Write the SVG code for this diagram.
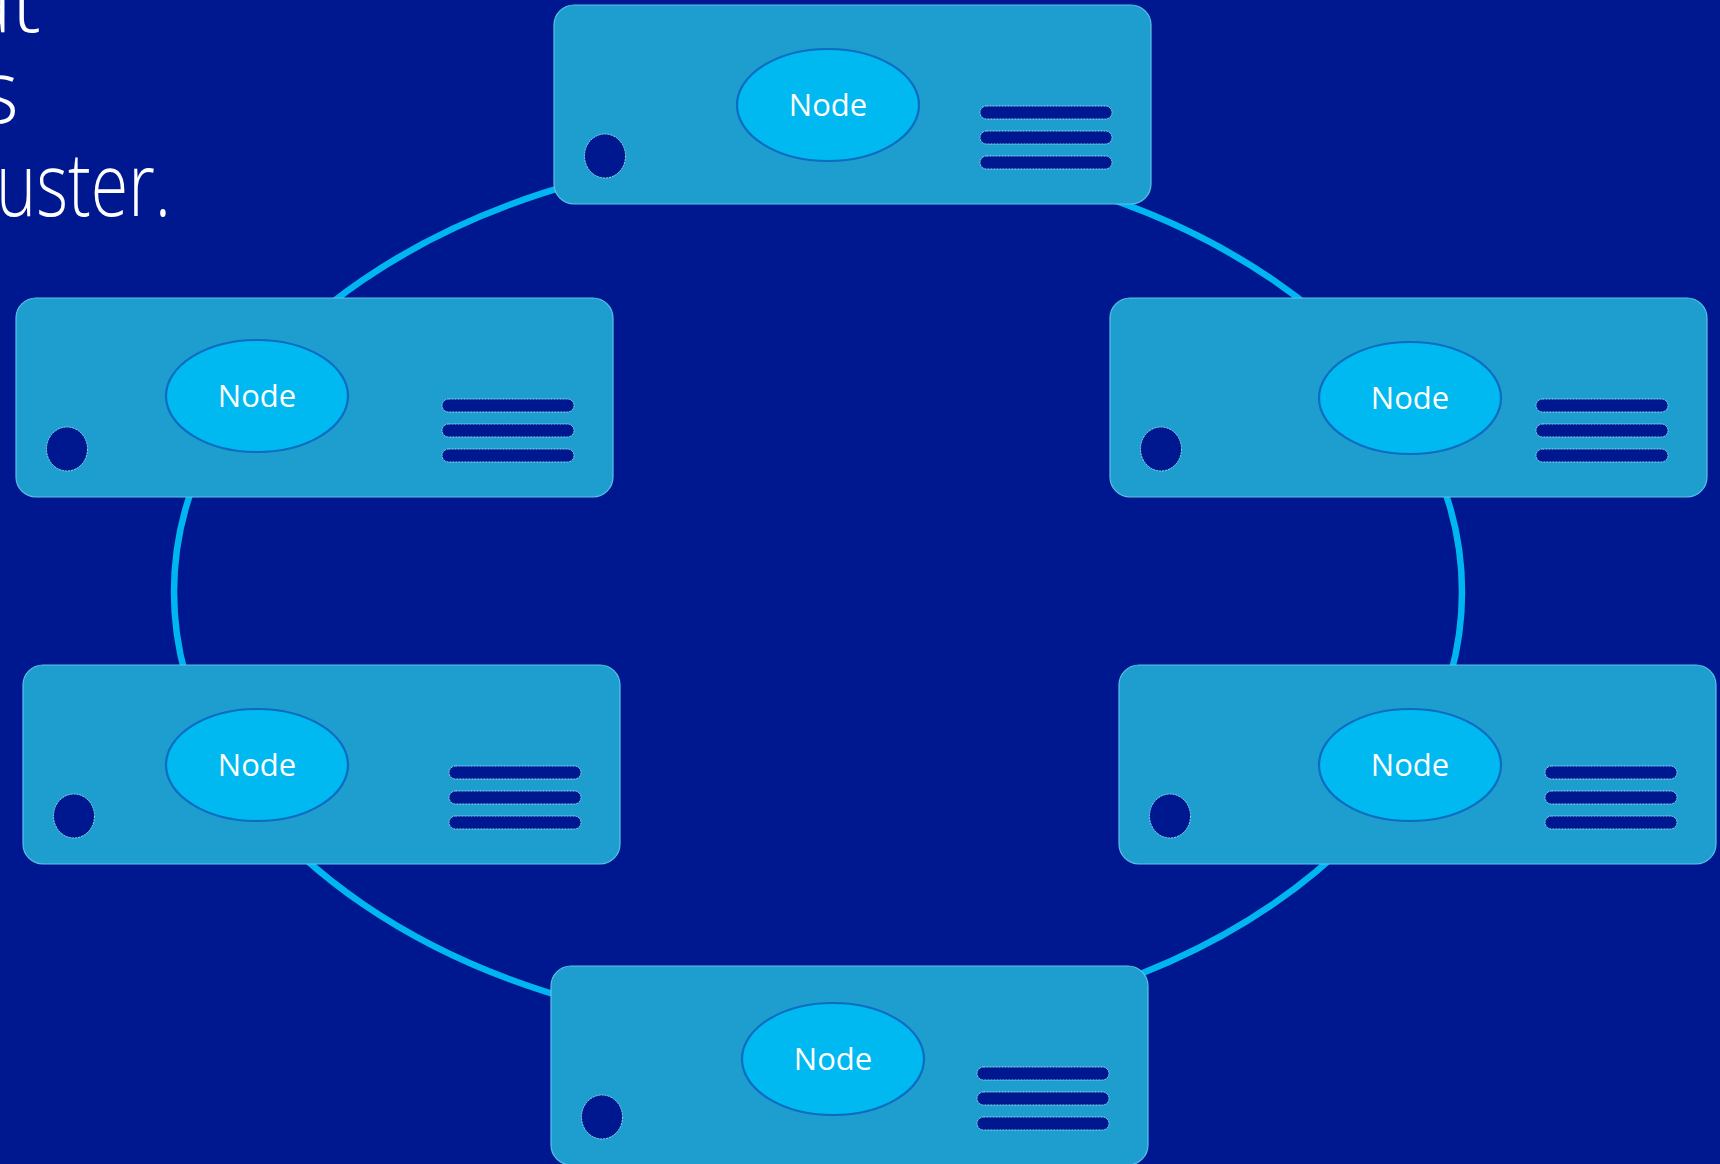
<svg xmlns="http://www.w3.org/2000/svg" width="1720" height="1164" viewBox="0 0 1720 1164">
  <style>
    .title { font-family: "Open Sans", "Lato", "Liberation Sans", sans-serif; font-weight: 300; font-size: 88px; fill: #ffffff; }
    .box { fill: #1d9ecf; stroke: #5cc0ea; stroke-width: 1.2; }
    .oval { fill: #00b9f1; stroke: #0c6cc2; stroke-width: 2.2; }
    .hole { fill: #00188f; stroke: #8fd3f0; stroke-width: 1; stroke-dasharray: 2 1; }
    .lbl { font-family: "Open Sans", "Noto Sans", "Liberation Sans", sans-serif; font-size: 31px; fill: #ffffff; text-anchor: middle; }
    .ring { fill: none; stroke: #00b6f0; stroke-width: 6.5; }
  </style>
  <defs>
    <g id="chassis">
      <rect class="box" x="0" y="0" width="597" height="199" rx="20" ry="20"/>
      <ellipse class="hole" cx="51" cy="151" rx="20.5" ry="22"/>
      <rect class="hole" x="426" y="101" width="132" height="13" rx="6.5"/>
      <rect class="hole" x="426" y="126" width="132" height="13" rx="6.5"/>
      <rect class="hole" x="426" y="151" width="132" height="13" rx="6.5"/>
    </g>
  </defs>
  <rect x="0" y="0" width="1720" height="1164" fill="#00188f"/>

  <g id="title">
    <text class="title" x="41" y="32" text-anchor="end">at</text>
    <text class="title" x="19" y="123" text-anchor="end">s</text>
    <text class="title" x="-4" y="216" textLength="175" lengthAdjust="spacingAndGlyphs">uster.</text>
  </g>

  <g id="connectors">
    <ellipse class="ring" cx="818" cy="592" rx="644" ry="441"/>
  </g>

  <g id="node-top" transform="translate(554,5)">
    <use href="#chassis"/>
    <ellipse class="oval" cx="274" cy="100" rx="91" ry="56"/>
    <text class="lbl" x="274" y="111">Node</text>
  </g>

  <g id="node-left-upper" transform="translate(16,298)">
    <use href="#chassis"/>
    <ellipse class="oval" cx="241" cy="98" rx="91" ry="56"/>
    <text class="lbl" x="241" y="109">Node</text>
  </g>

  <g id="node-right-upper" transform="translate(1110,298)">
    <use href="#chassis"/>
    <ellipse class="oval" cx="300" cy="100" rx="91" ry="56"/>
    <text class="lbl" x="300" y="111">Node</text>
  </g>

  <g id="node-left-lower" transform="translate(23,665)">
    <use href="#chassis"/>
    <ellipse class="oval" cx="234" cy="100" rx="91" ry="56"/>
    <text class="lbl" x="234" y="111">Node</text>
  </g>

  <g id="node-right-lower" transform="translate(1119,665)">
    <use href="#chassis"/>
    <ellipse class="oval" cx="291" cy="100" rx="91" ry="56"/>
    <text class="lbl" x="291" y="111">Node</text>
  </g>

  <g id="node-bottom" transform="translate(551,966)">
    <use href="#chassis"/>
    <ellipse class="oval" cx="282" cy="93" rx="91" ry="56"/>
    <text class="lbl" x="282" y="104">Node</text>
  </g>
</svg>
